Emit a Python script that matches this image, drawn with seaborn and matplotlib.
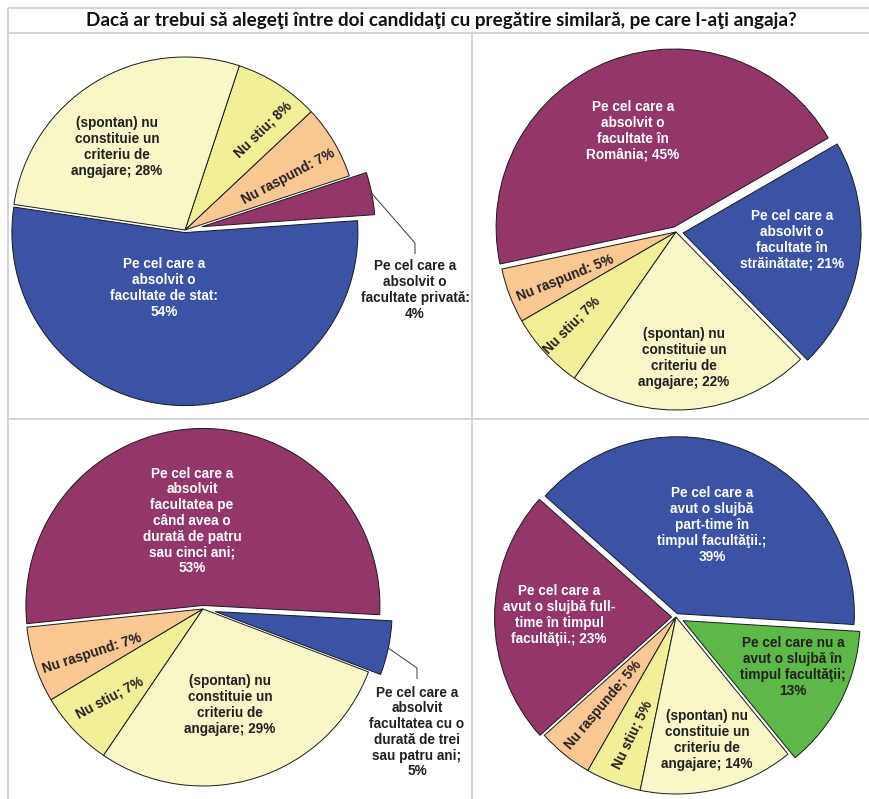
import matplotlib
matplotlib.use("Agg")
import numpy as np
import matplotlib.pyplot as plt
import seaborn as sns

# ---------------------------------------------------------------- data
TITLE = ("Dacă ar trebui să alegeţi între doi candidaţi cu pregătire "
         "similară, pe care l-aţi angaja?")

# Chart 1: stat vs privat
c1_labels = ["Pe cel care a\nabsolvit o\nfacultate de stat:\n{v}%",
             "Pe cel care a\nabsolvit o\nfacultate privată:\n{v}%",
             "Nu raspund: {v}%",
             "Nu stiu; {v}%",
             "(spontan) nu\nconstituie un\ncriteriu de\nangajare; {v}%"]
c1_values = [54, 4, 7, 8, 28]
c1_colors = ["blue", "purple", "orange", "yellow", "cream"]

# Chart 2: România vs străinătate
c2_labels = ["Pe cel care a\nabsolvit o\nfacultate în\nRomânia; {v}%",
             "Nu raspund: {v}%",
             "Nu stiu; {v}%",
             "(spontan) nu\nconstituie un\ncriteriu de\nangajare; {v}%",
             "Pe cel care a\nabsolvit o\nfacultate în\nstrăinătate; {v}%"]
c2_values = [45, 5, 7, 22, 21]
c2_colors = ["purple", "orange", "yellow", "cream", "blue"]

# Chart 3: durata studiilor
c3_labels = ["Pe cel care a\nabsolvit\nfacultatea pe\ncând avea o\ndurată de patru\nsau cinci ani;\n{v}%",
             "Nu raspund: {v}%",
             "Nu stiu; {v}%",
             "(spontan) nu\nconstituie un\ncriteriu de\nangajare; {v}%",
             "Pe cel care a\nabsolvit\nfacultatea cu o\ndurată de trei\nsau patru ani;\n{v}%"]
c3_values = [53, 7, 7, 29, 5]
c3_colors = ["purple", "orange", "yellow", "cream", "blue"]

# Chart 4: slujbă în timpul facultăţii
c4_labels = ["Pe cel care a\navut o slujbă\npart-time în\ntimpul facultăţii.;\n{v}%",
             "Pe cel care a\navut o slujbă full-\ntime în timpul\nfacultăţii.; {v}%",
             "Nu raspunde; {v}%",
             "Nu stiu; {v}%",
             "(spontan) nu\nconstituie un\ncriteriu de\nangajare; {v}%",
             "Pe cel care nu a\navut o slujbă în\ntimpul facultăţii;\n{v}%"]
c4_values = [39, 23, 5, 5, 14, 13]
c4_colors = ["blue", "purple", "orange", "yellow", "cream", "green"]

# ---------------------------------------------------------------- style
sns.set_theme(style="white")
color_keys = ["blue", "purple", "orange", "yellow", "cream", "green"]
palette = dict(zip(color_keys, sns.color_palette(
    ["#3A53A4", "#93376B", "#FBC894", "#F2EF99", "#F8F7C7", "#5DB947"])))
text_on = {"blue": "white", "purple": "white", "orange": "#231F20",
           "yellow": "#231F20", "cream": "#231F20", "green": "#231F20"}

LABEL_FONT = ["Liberation Sans", "DejaVu Sans"]
TITLE_FONT = ["Lato", "DejaVu Sans"]
FS = 9.8
LS = 1.16

W, H = 869, 799
fig = plt.figure(figsize=(W / 100, H / 100), dpi=100)
ax = fig.add_axes([0, 0, 1, 1])


def Y(y):
    return H - y


# layout of each chart: centre (px, y down), radius, start angle, explode
# (fraction of radius), label offsets from centre (px, y down), rotation,
# and leader-line bends for labels placed outside the pie
layouts = [
    dict(center=(185, 230), r=173, start=171.5,
         explode=[0.015, 0.10, 0, 0, 0],
         offs=[(-21, 58), (230, 60), (103, -53), (78, -100), (-68, -83)],
         rot=[0, 0, 28, 44, 0],
         outside={1: [(0, -47), (0, -36)]}),
    dict(center=(676, 232), r=178, start=30,
         explode=[0.03, 0, 0, 0, 0.04],
         offs=[(-43, -101), (-111, 46), (-104, 93), (8, 126), (116, 8)],
         rot=[0, 22, 45, 0, 0],
         outside={}),
    dict(center=(203, 609), r=177, start=-3,
         explode=[0.02, 0, 0, 0, 0.07],
         offs=[(-11, -88), (-111, 44), (-93, 89), (27, 96), (214, 123)],
         rot=[0, 18, 28, 0, 0],
         outside={4: [(0, -64), (0, -53)]}),
    dict(center=(676, 617), r=177, start=-3.5,
         explode=[0.02, 0.025, 0, 0, 0, 0.045],
         offs=[(36, -92), (-117, -2), (-73, 88), (-44, 118), (31, 123), (117, 50)],
         rot=[0, 0, 50, 64, 0, 0],
         outside={}),
]

charts = [(c1_labels, c1_values, c1_colors),
          (c2_labels, c2_values, c2_colors),
          (c3_labels, c3_values, c3_colors),
          (c4_labels, c4_values, c4_colors)]

for (labels, values, ckeys), lay in zip(charts, layouts):
    cx, cy = lay["center"]
    r = lay["r"]
    wedges, _ = ax.pie(values, colors=[palette[k] for k in ckeys],
                       startangle=lay["start"], counterclock=True,
                       explode=[e * r for e in lay["explode"]],
                       center=(cx, Y(cy)), radius=r,
                       wedgeprops=dict(edgecolor="#1a1a1a", linewidth=0.7))
    for i, (lab, v, k) in enumerate(zip(labels, values, ckeys)):
        dx, dy = lay["offs"][i]
        tx, ty = cx + dx, cy + dy
        col = text_on[k]
        if i in lay["outside"]:
            col = "#231F20"
            w = wedges[i]
            mid = np.deg2rad((w.theta1 + w.theta2) / 2)
            rr = r * (1 + lay["explode"][i])
            sx, sy = cx + rr * np.cos(mid), cy - rr * np.sin(mid)
            (ex, ey), (fx, fy) = lay["outside"][i]
            ax.plot([sx, tx + ex, tx + fx], [Y(sy), Y(ty + ey), Y(ty + fy)],
                    color="#3a3a3a", lw=0.7, solid_capstyle="butt")
        ax.text(tx, Y(ty), lab.format(v=v), ha="center", va="center",
                rotation=lay["rot"][i], rotation_mode="anchor",
                fontsize=FS, fontweight="bold", color=col,
                family=LABEL_FONT, linespacing=LS)

# frame lines of the table
grid = dict(color="#C8C8C8", lw=1.1, solid_capstyle="butt")
ax.plot([8, W], [Y(8), Y(8)], **grid)
ax.plot([8, W], [Y(33), Y(33)], **grid)
ax.plot([8, W], [Y(419), Y(419)], **grid)
ax.plot([8, 8], [Y(8), 0], **grid)
ax.plot([472, 472], [Y(33), 0], **grid)

# title, sized to span the header cell
title = ax.text(441, Y(20.5), TITLE, ha="center", va="center",
                fontsize=14, fontweight="bold", color="#111111",
                family=TITLE_FONT)
renderer = fig.canvas.get_renderer()
tw = title.get_window_extent(renderer).width
title.set_fontsize(14 * 712 / tw)

ax.set_xlim(0, W)
ax.set_ylim(0, H)
ax.set_aspect("auto")
ax.axis("off")

fig.savefig("out.png", dpi=100, facecolor="white")
